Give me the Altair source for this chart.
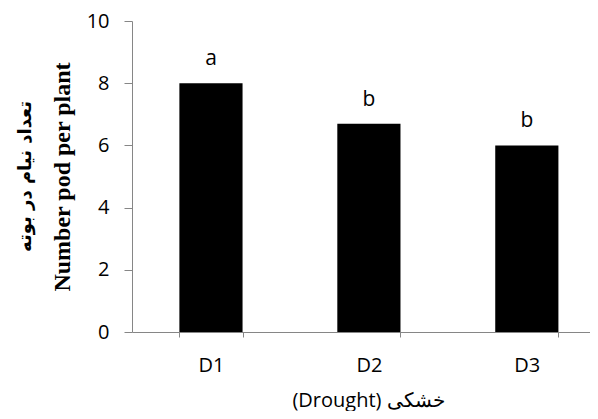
import altair as alt
import pandas as pd

categories = ["D1", "D2", "D3"]
values = [8.0, 6.7, 6.0]
letters = ["a", "b", "b"]
y_ticks = [0, 2, 4, 6, 8, 10]

df = pd.DataFrame({"treatment": categories, "value": values, "letter": letters})

GRAY = "#868686"

x_enc = alt.X(
    "treatment:N",
    sort=categories,
    scale=alt.Scale(paddingInner=0.6, paddingOuter=0.25, align=0.6),
    axis=alt.Axis(
        title="(Drought) خشکی",
        labelAngle=0,
        tickBand="extent",
        tickSize=5,
        labelPadding=18,
        titlePadding=15,
        titleX=236,
        labelFont="Open Sans",
        labelFontSize=20,
        titleFont="Open Sans",
        titleFontSize=20,
        titleFontWeight="normal",
        domainColor=GRAY,
        tickColor=GRAY,
        labelColor="black",
        titleColor="black",
    ),
)

y_enc = alt.Y(
    "value:Q",
    scale=alt.Scale(domain=[0, 10], nice=False),
    axis=alt.Axis(
        title="Number pod per plant",
        values=y_ticks,
        grid=False,
        tickSize=8,
        labelPadding=15,
        titlePadding=12,
        labelFont="Open Sans",
        labelFontSize=20,
        titleFont="Liberation Serif",
        titleFontSize=24,
        titleFontWeight="bold",
        domainColor=GRAY,
        tickColor=GRAY,
        labelColor="black",
        titleColor="black",
    ),
)

bars = alt.Chart(df).mark_bar(color="black").encode(x=x_enc, y=y_enc)

text = alt.Chart(df).mark_text(
    baseline="alphabetic", dy=-18, font="Open Sans", fontSize=21, color="black"
).encode(x=alt.X("treatment:N", sort=categories), y="value:Q", text="letter:N")

chart = (
    alt.layer(bars, text)
    .properties(
        width=458,
        height=311,
        padding={"left": 124, "top": 13, "right": 0, "bottom": 79},
        autosize=alt.AutoSizeParams(type="none"),
        title=alt.TitleParams(
            text="تعداد نیام در بوته",
            orient="left",
            anchor="middle",
            font="DejaVu Sans",
            fontSize=18,
            fontWeight="bold",
            color="black",
            offset=15,
        ),
    )
    .configure_view(stroke=None)
)

chart.save("out.html", embed_options={"renderer": "svg", "actions": False})
